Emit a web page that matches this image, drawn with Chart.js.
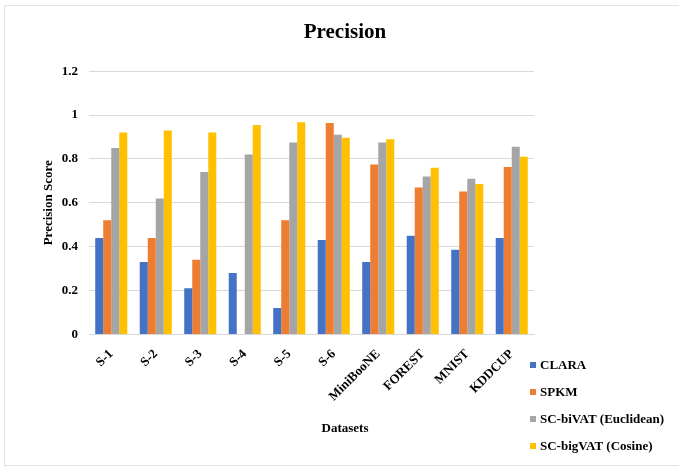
<!DOCTYPE html>
<html>
<head>
	<meta charset="utf-8">
	<title>Precision</title>
	<script src="https://cdn.jsdelivr.net/npm/chart.js"></script>
	<style type="text/css">
		html, body { margin: 0; padding: 0; background: #fff; }
		#wrap { width: 679px; height: 467px; }
	</style>
</head>
<body>
<div id="wrap">
	<canvas id="precisionChart" width="679" height="467"></canvas>
</div>
<script>
  const datasets_names = ['S-1', 'S-2', 'S-3', 'S-4', 'S-5', 'S-6', 'MiniBooNE', 'FOREST', 'MNIST', 'KDDCUP'];
  const yTicks = [0, 0.2, 0.4, 0.6, 0.8, 1, 1.2];

  const clara    = [0.44, 0.33, 0.21, 0.28, 0.12, 0.43, 0.33, 0.45, 0.386, 0.44];
  const spkm     = [0.52, 0.44, 0.34, 0, 0.52, 0.964, 0.775, 0.67, 0.652, 0.763];
  const biVat    = [0.85, 0.62, 0.74, 0.82, 0.875, 0.91, 0.875, 0.72, 0.71, 0.856];
  const bigVat   = [0.92, 0.93, 0.92, 0.955, 0.967, 0.897, 0.89, 0.76, 0.686, 0.81];

  const serif = "'Liberation Serif', 'Times New Roman', serif";

  // light frame like the exported office chart
  const framePlugin = {
    id: 'frame',
    beforeDraw(chart) {
      const ctx = chart.ctx;
      ctx.save();
      ctx.strokeStyle = '#e3e3e3';
      ctx.lineWidth = 1;
      ctx.strokeRect(4.5, 5.5, chart.width + 10, 460);
      ctx.restore();
    }
  };

  // legend sits under the plot on the right, one entry per row
  const sideLegend = {
    id: 'sideLegend',
    afterDraw(chart) {
      const ctx = chart.ctx;
      ctx.save();
      ctx.font = 'bold 13px ' + serif;
      ctx.textAlign = 'left';
      ctx.textBaseline = 'middle';
      chart.data.datasets.forEach(function(ds, i){
        const y = 365 + i * 27;
        ctx.fillStyle = ds.backgroundColor;
        ctx.fillRect(530, y - 3, 6, 6);
        ctx.fillStyle = '#000';
        ctx.fillText(ds.label, 540, y + 1);
      });
      ctx.restore();
    }
  };

  const data = {
    labels: datasets_names,
    datasets: [
      { label: 'CLARA', data: clara, backgroundColor: '#4472C4' },
      { label: 'SPKM', data: spkm, backgroundColor: '#ED7D31' },
      { label: 'SC-biVAT (Euclidean)', data: biVat, backgroundColor: '#A5A5A5' },
      { label: 'SC-bigVAT (Cosine)', data: bigVat, backgroundColor: '#FFC000' }
    ]
  };

  const config = {
    type: 'bar',
    data: data,
    options: {
      responsive: false,
      animation: false,
      layout: { padding: { left: 11 } },
      datasets: {
        bar: { categoryPercentage: 0.72, barPercentage: 1.0 }
      },
      plugins: {
        title: {
          display: true,
          text: 'Precision',
          color: '#000',
          font: { family: serif, size: 21, weight: 'bold' },
          padding: { top: 20, bottom: 26 }
        },
        subtitle: {
          display: true,
          text: 'Datasets',
          position: 'bottom',
          color: '#000',
          font: { family: serif, size: 13, weight: 'bold' },
          padding: { top: 4, bottom: 31 }
        },
        legend: { display: false },
        tooltip: { enabled: false }
      },
      scales: {
        x: {
          grid: { display: false },
          border: { display: true, color: '#d9d9d9' },
          ticks: {
            color: '#000',
            font: { family: serif, size: 13, weight: 'bold' },
            minRotation: 45,
            maxRotation: 45,
            padding: 4
          },
          afterFit(scale) { scale.height = 82; }
        },
        y: {
          min: 0,
          max: 1.2,
          afterBuildTicks(scale) { scale.ticks = yTicks.map(v => ({ value: v })); },
          grid: { color: '#d9d9d9', drawTicks: false },
          border: { display: false },
          ticks: {
            color: '#000',
            font: { family: serif, size: 13, weight: 'bold' },
            padding: 11,
            callback: v => String(v)
          },
          title: {
            display: true,
            text: 'Precision Score',
            color: '#000',
            font: { family: serif, size: 13, weight: 'bold' },
            padding: { top: 30, bottom: 0 }
          },
          afterFit(scale) { scale.width = 78; }
        },
        // empty axis that keeps the space on the right free for the legend
        side: {
          position: 'right',
          display: true,
          grid: { display: false },
          border: { display: false },
          ticks: { display: false },
          afterFit(scale) { scale.width = 145; }
        }
      }
    },
    plugins: [framePlugin, sideLegend]
  };

  const precisionChart = new Chart(document.getElementById('precisionChart'), config);
</script>
</body>
</html>
